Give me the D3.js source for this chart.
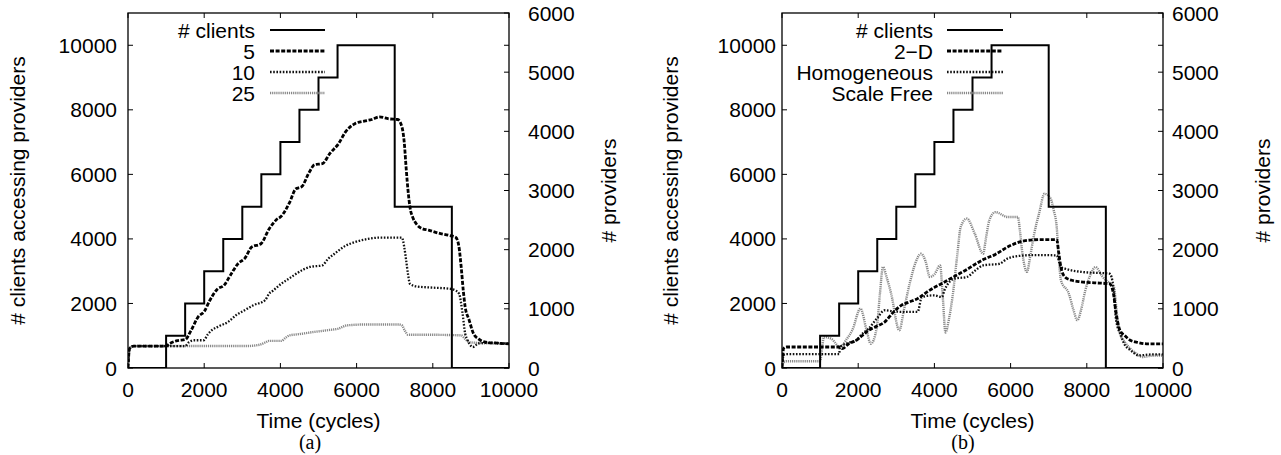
<!DOCTYPE html>
<html><head><meta charset="utf-8">
<script src="https://cdn.jsdelivr.net/npm/d3@7"></script>
<style>
html,body{margin:0;padding:0;background:#fff;}
svg text{font-family:"Liberation Sans",Arial,Helvetica,sans-serif;fill:#000;}
</style></head>
<body>
<svg id="chart" width="1281" height="455"></svg>
<script>
// ---------- data ----------
const timeTicks = [0, 2000, 4000, 6000, 8000, 10000];
const leftTicks = [0, 2000, 4000, 6000, 8000, 10000];
const rightTicks = [0, 1000, 2000, 3000, 4000, 5000, 6000];

const clientStepT = [0, 1000, 1500, 2000, 2500, 3000, 3500, 4000, 4500, 5000, 5500, 7000, 8500, 10000];
const clientStepV = [0, 1000, 2000, 3000, 4000, 5000, 6000, 7000, 8000, 9000, 10000, 5000, 0, 0];

// panel (a): capacity 5 / 10 / 25
const capA5 = [[0,0],[40,600],[150,680],[1000,680],[1100,760],[1300,850],[1500,880],[1650,1150],[1850,1600],[2000,1750],[2150,2100],[2350,2450],[2520,2560],[2700,2900],[2900,3250],[3060,3390],[3250,3750],[3490,3850],[3700,4300],[3900,4600],[4020,4700],[4250,5150],[4400,5550],[4560,5620],[4750,6050],[4900,6300],[5100,6330],[5300,6650],[5525,6950],[5700,7300],[5955,7570],[6200,7650],[6400,7700],[6600,7780],[6850,7720],[7080,7700],[7190,7470],[7250,7000],[7300,6200],[7350,5500],[7400,4990],[7480,4650],[7565,4470],[7700,4330],[7890,4270],[8150,4180],[8420,4110],[8600,4050],[8680,3800],[8745,3130],[8800,2400],[8850,1890],[8950,1500],[9070,1060],[9200,900],[9390,800],[9700,770],[10000,750]];
const capA10 = [[0,0],[40,600],[150,680],[1500,680],[1600,800],[1750,860],[1985,860],[2100,1050],[2200,1170],[2400,1300],[2630,1430],[2850,1650],[3060,1790],[3300,1950],[3600,2100],[3700,2300],[3810,2400],[4020,2610],[4200,2750],[4350,2870],[4600,3050],[4775,3130],[5100,3180],[5250,3380],[5420,3540],[5700,3780],[5955,3900],[6300,4000],[6600,4040],[7190,4040],[7250,3750],[7300,3340],[7350,2900],[7400,2610],[7565,2530],[8000,2490],[8420,2460],[8600,2400],[8690,2300],[8780,1700],[8850,1060],[8900,900],[8960,750],[9050,650],[9200,760],[9500,780],[10000,750]];
const capA25 = [[0,0],[40,600],[150,680],[3100,680],[3450,720],[3600,790],[3700,840],[4020,840],[4150,950],[4240,1010],[4500,1050],[4775,1100],[5100,1150],[5300,1180],[5525,1220],[5740,1320],[6280,1350],[7100,1350],[7190,1320],[7270,1150],[7350,1030],[7890,1030],[8500,1020],[8745,1010],[8850,900],[8960,800],[9300,770],[10000,750]];

// panel (b): topologies
const topo2D = [[0,0],[40,600],[120,650],[1500,650],[1580,600],[1750,750],[1950,860],[2100,1000],[2275,1170],[2500,1300],[2700,1430],[2900,1700],[3130,1940],[3350,2050],[3560,2150],[3800,2350],[3990,2490],[4200,2620],[4420,2770],[4650,2920],[4850,3050],[5050,3200],[5280,3360],[5600,3520],[5920,3750],[6150,3870],[6350,3940],[6800,3980],[7210,3980],[7260,3600],[7320,3130],[7425,2820],[7600,2720],[7850,2670],[8200,2640],[8600,2610],[8700,2300],[8770,1680],[8870,1170],[9000,1000],[9140,860],[9350,790],[9570,750],[10000,750]];
const topoHomog = [[0,0],[40,400],[120,430],[1500,430],[1520,650],[1750,780],[1950,860],[2100,1050],[2275,1220],[2500,1550],[2700,1790],[2900,1760],[3130,1740],[3560,1740],[3670,2200],[3990,2250],[4200,2200],[4260,2400],[4530,2770],[4850,2820],[5050,3000],[5280,3180],[5710,3230],[5900,3380],[6140,3460],[6600,3500],[7210,3490],[7320,3130],[7425,3080],[7850,2980],[8600,2920],[8700,2500],[8770,1480],[8900,1000],[8980,750],[9150,550],[9360,390],[9700,420],[10000,420]];
const topoScaleFree = [[0,0],[40,180],[120,210],[1000,210],[1050,600],[1100,960],[1300,900],[1520,650],[1700,900],[1845,1170],[2060,1840],[2220,1170],[2330,750],[2490,1270],[2570,2300],[2650,3130],[2750,2800],[2865,2300],[3080,1170],[3200,1800],[3350,2610],[3500,3250],[3650,3540],[3770,3300],[3880,2820],[4000,2900],[4150,3180],[4220,2200],[4290,1100],[4380,1500],[4475,2200],[4600,3500],[4690,4370],[4850,4630],[5060,4160],[5280,3540],[5350,4000],[5440,4570],[5600,4830],[5920,4680],[6190,4680],[6250,4200],[6300,3650],[6430,2980],[6520,3500],[6620,4160],[6750,4800],[6890,5400],[7050,5250],[7130,4900],[7210,4370],[7260,3500],[7320,2720],[7530,2300],[7650,1800],[7750,1480],[7850,1800],[7960,2400],[8100,2900],[8230,3130],[8400,2850],[8500,2720],[8710,2510],[8790,1700],[8870,1060],[9000,800],[9140,600],[9300,450],[9460,340],[9700,380],[10000,390]];

const panels = [
  {x0:128, x1:509, cap:"(a)", capX:310, yLblEnd:117, y2LblStart:528, yTitleX:18, y2TitleX:609,
   legendTextX:255, legendLineX0:270, legendLineX1:325,
   series:[{name:"5", data:capA5, style:"s1"},{name:"10", data:capA10, style:"s2"},{name:"25", data:capA25, style:"s3"}]},
  {x0:782, x1:1163, cap:"(b)", capX:963, yLblEnd:776, y2LblStart:1172, yTitleX:671, y2TitleX:1263,
   legendTextX:933, legendLineX0:947, legendLineX1:1003,
   series:[{name:"2\u2212D", data:topo2D, style:"s1"},{name:"Homogeneous", data:topoHomog, style:"s2"},{name:"Scale Free", data:topoScaleFree, style:"s3"}]}
];

const styles = {
  clients:{stroke:"#000", width:2, dash:null},
  s1:{stroke:"#000", width:2.8, dash:"4,1.6"},
  s2:{stroke:"#111", width:2.3, dash:"1.6,1.6"},
  s3:{stroke:"#888", width:2.4, dash:"1.2,0.9"}
};

const svg = d3.select("#chart");
const yTop = 13, yBot = 368;
const FS = 21;

panels.forEach(p => {
  const g = svg.append("g");
  const x = d3.scaleLinear().domain([0,10000]).range([p.x0,p.x1]);
  const y = d3.scaleLinear().domain([0,11000]).range([yBot,yTop]);
  const y2 = d3.scaleLinear().domain([0,6000]).range([yBot,yTop]);

  g.append("rect").attr("x",p.x0).attr("y",yTop).attr("width",p.x1-p.x0).attr("height",yBot-yTop)
    .attr("fill","none").attr("stroke","#000").attr("stroke-width",1.3);

  const tl = 5;
  timeTicks.forEach(t => {
    const xx = x(t);
    g.append("line").attr("x1",xx).attr("x2",xx).attr("y1",yBot).attr("y2",yBot-tl).attr("stroke","#000");
    g.append("line").attr("x1",xx).attr("x2",xx).attr("y1",yTop).attr("y2",yTop+tl).attr("stroke","#000");
    g.append("text").attr("x",xx).attr("y",397).attr("text-anchor","middle").attr("font-size",FS).text(t);
  });
  leftTicks.forEach(v => {
    const yy = y(v);
    g.append("line").attr("x1",p.x0).attr("x2",p.x0+tl).attr("y1",yy).attr("y2",yy).attr("stroke","#000");
    g.append("line").attr("x1",p.x1).attr("x2",p.x1-tl).attr("y1",yy).attr("y2",yy).attr("stroke","#000");
    g.append("text").attr("x",p.yLblEnd).attr("y",yy+7.5).attr("text-anchor","end").attr("font-size",FS).text(v);
  });
  rightTicks.forEach(v => {
    const yy = y2(v);
    g.append("line").attr("x1",p.x1).attr("x2",p.x1-tl).attr("y1",yy).attr("y2",yy).attr("stroke","#000");
    g.append("text").attr("x",p.y2LblStart).attr("y",yy+7.5).attr("text-anchor","start").attr("font-size",FS).text(v);
  });

  g.append("text").attr("x",(p.x0+p.x1)/2).attr("y",428).attr("text-anchor","middle").attr("font-size",FS).text("Time (cycles)");
  g.append("text").attr("transform",`translate(${p.yTitleX+7},${(yTop+yBot)/2}) rotate(-90)`)
    .attr("text-anchor","middle").attr("font-size",FS).text("# clients accessing providers");
  g.append("text").attr("transform",`translate(${p.y2TitleX+7},${(yTop+yBot)/2}) rotate(-90)`)
    .attr("text-anchor","middle").attr("font-size",FS).text("# providers");
  g.append("text").attr("x",p.capX).attr("y",449).attr("text-anchor","middle")
    .attr("font-size",20).style("font-family","'Liberation Serif','Times New Roman',serif").text(p.cap);

  const clip = "clip" + p.x0;
  svg.append("clipPath").attr("id",clip).append("rect").attr("x",p.x0).attr("y",yTop).attr("width",p.x1-p.x0).attr("height",yBot-yTop);

  const line = d3.line().x(d=>x(d[0])).y(d=>y(d[1])).curve(d3.curveMonotoneX);
  const plot = g.append("g").attr("clip-path",`url(#${clip})`);

  p.series.slice().reverse().forEach(s => {
    const st = styles[s.style];
    plot.append("path").datum(s.data).attr("d",line).attr("fill","none")
      .attr("stroke",st.stroke).attr("stroke-width",st.width).attr("stroke-dasharray",st.dash)
      .attr("stroke-linejoin","round");
  });
  const stepData = clientStepT.map((t,i)=>[t, clientStepV[i]]);
  const stepLine = d3.line().x(d=>x(d[0])).y(d=>y(d[1])).curve(d3.curveStepAfter);
  plot.append("path").datum(stepData).attr("d",stepLine).attr("fill","none")
    .attr("stroke","#000").attr("stroke-width",2);

  const legItems = [{name:"# clients", style:"clients"}].concat(p.series);
  const rowsY = [30,51,72,93];
  legItems.forEach((it,i) => {
    const st = styles[it.style];
    const yy = rowsY[i];
    g.append("text").attr("x",p.legendTextX).attr("y",yy+7.5).attr("text-anchor","end").attr("font-size",FS).text(it.name);
    g.append("line").attr("x1",p.legendLineX0).attr("x2",p.legendLineX1).attr("y1",yy).attr("y2",yy)
      .attr("stroke",st.stroke).attr("stroke-width",st.width).attr("stroke-dasharray",st.dash);
  });
});
</script>
</body></html>
